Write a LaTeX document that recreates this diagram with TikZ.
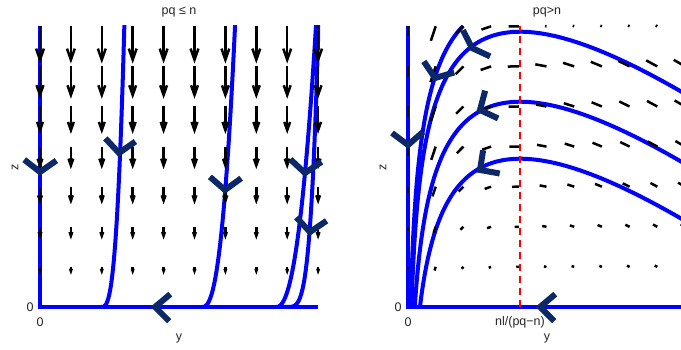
\documentclass[tikz,border=0pt]{standalone}
\usepackage{fontspec}
\setmainfont{Liberation Sans}
\usetikzlibrary{arrows.meta}
\definecolor{chevblue}{RGB}{12,40,102}
% flow marker: apex, then the angles of its two arms
\newcommand{\flowmark}[3]{\draw[chev] ([shift={(#2:20)}]#1) -- (#1) -- ([shift={(#3:20)}]#1);}
\begin{document}
\begin{tikzpicture}[x=1pt,y=1pt,
  traj/.style={draw=blue, line width=4pt},
  vec/.style={black, line width=2.5pt},
  chev/.style={draw=chevblue, line width=6pt, line join=miter},
  lbl/.style={text=black!85, font=\fontsize{12.5}{14}\selectfont, inner sep=0pt}]
\useasboundingbox (0,0) rectangle (681,350);

% ---- pq <= n
\begin{scope}[shift={(40,43)}]
% trajectories
\begin{scope}
\clip (-10,-10) rectangle (280,281);
\draw[traj] (0,281) -- (0,0) -- (278,0);
\draw[traj] plot[domain=0.2:24, samples=60] ({61+\x},{(\x/3.563)^3});
\draw[traj] plot[domain=0.2:34, samples=60] ({162+\x},{(\x/3.463)^2.5});
\draw[traj] plot[domain=0.2:42, samples=60] ({236+\x},{(\x/3.446)^2.3});
\draw[traj] plot[domain=0.2:35, samples=60] ({245+\x},{(\x/8.9)^4.26});
\end{scope}
% field
\foreach \i in {0,...,9}
  \foreach \j in {1,...,7} {
    \pgfmathsetmacro\len{4.9*\j+3}
    \pgfmathsetmacro\hd{0.3*\len}
    \pgfmathsetmacro\hw{0.7*\hd}
    \draw[vec, -{Straight Barb[length=\hd pt, width=\hw pt]}] (30.9*\i,40.1*\j) -- ++(0,-\len);
  }
% markers
\flowmark{0,135}{142}{35}
\flowmark{79,154}{133}{35}
\flowmark{185,117}{139}{36}
\flowmark{265,134}{137}{34}
\flowmark{270,75}{133}{34}
\flowmark{115,0}{40}{-45}
% labels
\node[lbl] (titleL) at (139,295) {pq ≤ n};
\node[lbl] (zeroLz) at (-10,0) {0};
\node[lbl] (zeroLy) at (0,-15) {0};
\node[lbl] (yL) at (139,-31) {y};
\node[lbl, rotate=90] (zL) at (-25,140) {z};
\end{scope}

% ---- pq > n
\begin{scope}[shift={(408,43)}]
% trajectories
\begin{scope}
\clip (-10,-10) rectangle (273,281);
\draw[traj] (0,281) -- (0,0) -- (278,0);
\foreach \c/\ta/\tb in {-106/0.986/4.01, -134/1.253/5.63, -204/1.917/5.63, -261/2.485/5.63}
  \draw[traj] plot[domain=\ta:\tb, samples=90] ({exp(\x)},{110*\x-0.98*exp(\x)+\c});
\end{scope}
% field
\foreach \i in {0,...,10}
  \foreach \j/\rl in {1/3,2/5,3/8,4/11,5/12,6/13,7/12} {
    \pgfmathsetmacro\yy{27.7*\i}
    \pgfmathsetmacro\ang{atan2(0.98*\yy-110,-\yy)}
    \pgfmathsetmacro\len{0.85*\rl*(\i==1 ? 1.5 : 1)*(1+0.03*max(\i-4,0))*((\j==7 && \i>4) ? 0.15 : 1)}
    \draw[vec] (\yy,40.1*\j) -- ++(\ang:\len);
  }
% threshold
\draw[red, line width=2.5pt, dash pattern=on 7pt off 5pt] (112,0) -- (112,281);
% markers
\flowmark{0,162}{143}{41}
\flowmark{27,229}{124}{16}
\flowmark{64,259}{117}{-25}
\flowmark{72,197}{75}{-25}
\flowmark{72,137}{81}{-10}
\flowmark{132,0}{40}{-45}
% labels
\node[lbl] (titleR) at (139,295) {pq>n};
\node[lbl] (zeroRz) at (-10,0) {0};
\node[lbl] (zeroRy) at (0,-15) {0};
\node[lbl] (thr) at (112,-15) {nl/(pq−n)};
\node[lbl] (yR) at (139,-31) {y};
\node[lbl, rotate=90] (zR) at (-25,140) {z};
\end{scope}
\end{tikzpicture}
\end{document}
